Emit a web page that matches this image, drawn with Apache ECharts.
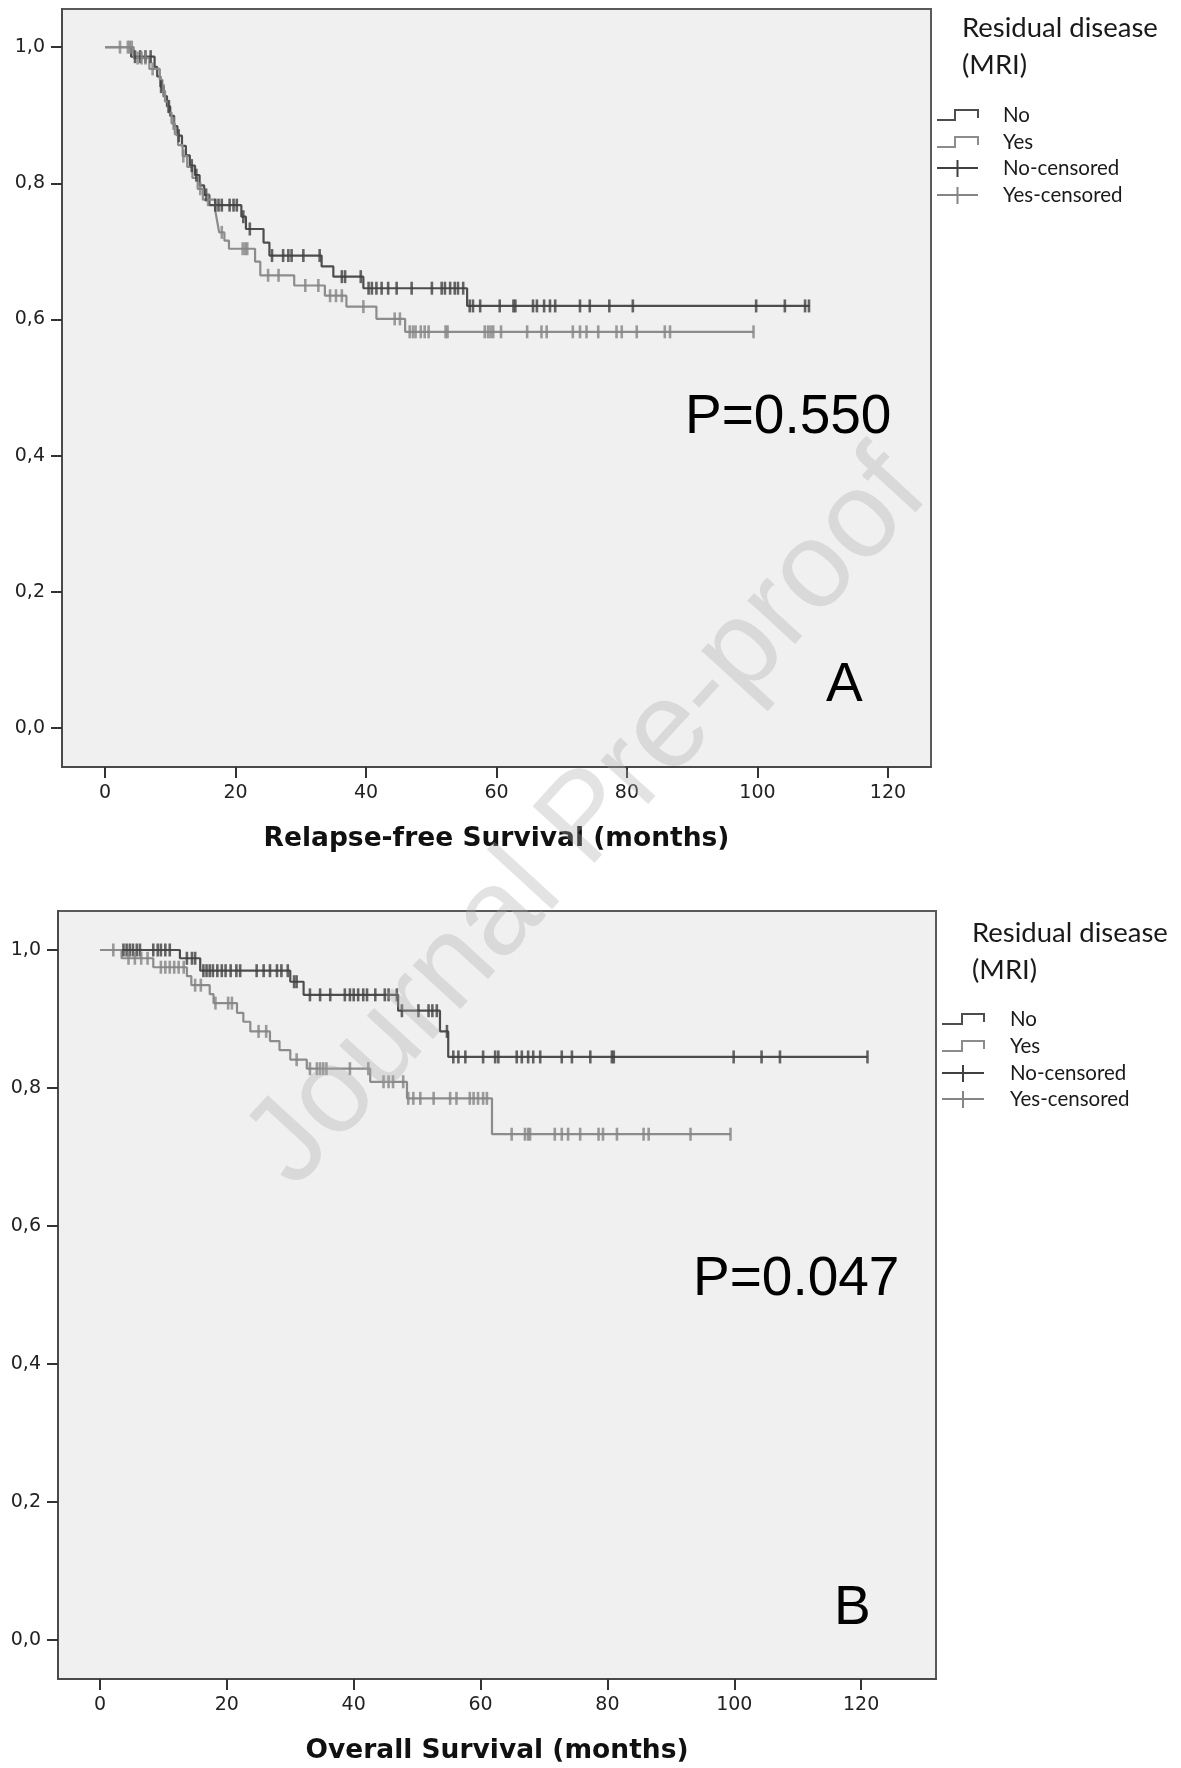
<!DOCTYPE html>
<html><head><meta charset="utf-8">
<script src="https://cdn.jsdelivr.net/npm/echarts@6/dist/echarts.min.js"></script>
<style>html,body{margin:0;padding:0;background:#fff;}#c{width:1181px;height:1768px;}</style>
</head><body><div id="c"></div>
<script>
// ---------- DATA ----------
const xTickValues = [0, 20, 40, 60, 80, 100, 120];
const yTickValues = [0, 0.2, 0.4, 0.6, 0.8, 1.0];
const groupNames = ['No', 'Yes', 'No-censored', 'Yes-censored'];
const legendTitle = ['Residual disease', '(MRI)'];
const xTitleA = 'Relapse-free Survival (months)';
const xTitleB = 'Overall Survival (months)';
const pValueA = 'P=0.550';
const pValueB = 'P=0.047';
const panelA = 'A';
const panelB = 'B';

// Relapse-free survival: [time (months), survival after event]
const rfsNoSteps = [[0,1.000],[4.0,0.986],[7.6,0.971],[8.0,0.957],[8.5,0.942],[9.0,0.928],[9.5,0.913],[10.0,0.899],[10.6,0.884],[11.1,0.870],[11.8,0.855],[12.4,0.841],[13.0,0.826],[13.8,0.812],[14.5,0.797],[15.2,0.783],[16.0,0.768],[20.9,0.751],[21.6,0.733],[24.3,0.713],[25.2,0.694],[33.2,0.678],[35.0,0.663],[39.6,0.646],[55.5,0.620],[108.0,0.620]];
const rfsNoCensored = [4.6,5.4,6.2,7.0,8.6,9.8,11.3,13.3,14.0,15.5,16.9,17.4,17.9,19.1,19.7,20.2,21.2,22.2,25.6,27.3,28.1,28.6,30.4,32.9,36.3,36.8,39.2,40.4,40.9,41.6,42.4,43.4,44.7,47.0,50.1,51.6,52.1,52.9,53.6,54.1,54.9,55.9,56.4,57.5,60.5,62.6,62.9,65.6,66.2,67.3,68.2,69.0,72.8,74.3,77.3,80.9,99.8,104.2,107.3,107.9];
const rfsYesSteps = [[0,1.000],[4.4,0.984],[6.8,0.968],[8.4,0.952],[8.8,0.936],[9.2,0.920],[9.7,0.904],[10.2,0.888],[10.7,0.872],[11.2,0.856],[11.9,0.840],[12.6,0.824],[13.4,0.808],[14.2,0.792],[15.0,0.776],[16.9,0.760],[17.2,0.744],[17.5,0.728],[18.3,0.716],[19.0,0.704],[23.0,0.685],[23.8,0.665],[29.0,0.650],[33.7,0.635],[37.0,0.619],[41.6,0.601],[46.0,0.582],[99.4,0.582]];
const rfsYesCensored = [2.3,3.5,3.8,4.1,5.0,5.6,6.2,7.3,9.0,10.5,12.0,14.6,15.8,17.9,21.1,21.5,21.8,25.0,26.6,30.7,32.7,34.5,35.4,36.3,39.6,44.4,45.2,46.7,47.2,47.6,48.4,49.0,49.6,52.2,52.5,58.2,58.7,59.1,59.5,60.7,64.7,66.9,67.7,71.7,72.8,73.8,75.6,78.4,79.2,81.5,85.8,86.6,99.4];

// Overall survival
const osNoSteps = [[0,1.000],[12.6,0.988],[15.8,0.970],[30.0,0.954],[32.1,0.935],[47.0,0.912],[53.6,0.882],[54.9,0.845],[121.0,0.845]];
const osNoCensored = [3.7,4.2,4.7,5.2,5.8,6.3,8.4,9.1,9.6,10.3,11.0,13.7,14.5,15.0,16.3,16.8,17.3,17.8,18.5,19.2,19.8,20.6,21.5,22.1,24.7,25.8,26.8,27.9,28.6,29.6,30.6,31.0,33.1,34.7,36.3,38.6,39.4,40.0,40.7,41.5,42.1,43.4,44.9,45.5,46.8,47.6,50.2,51.8,52.4,53.1,54.7,55.7,56.5,57.6,60.4,62.3,62.8,65.7,66.5,67.5,68.3,69.4,72.8,74.4,77.3,80.7,81.0,99.9,104.3,107.2,121.0];
const osYesSteps = [[0,1.000],[3.4,0.988],[8.4,0.975],[13.7,0.962],[14.4,0.949],[17.3,0.936],[17.9,0.923],[21.6,0.909],[22.6,0.896],[23.7,0.882],[26.8,0.868],[28.3,0.855],[30.0,0.841],[32.6,0.828],[42.6,0.809],[48.4,0.785],[61.8,0.733],[99.4,0.733]];
const osYesCensored = [2.1,4.5,5.5,6.5,7.5,9.6,10.3,11.0,11.7,12.4,13.2,15.0,15.9,18.2,20.2,20.8,25.0,26.2,31.0,33.1,34.2,34.7,35.2,35.7,39.4,42.3,44.7,45.5,46.2,47.8,48.6,49.4,50.5,52.6,55.2,56.2,58.3,58.9,59.6,60.4,61.0,64.9,67.0,67.5,67.8,71.7,72.8,73.8,75.7,78.6,79.3,81.5,85.7,86.5,93.1,99.4];

// ---------- STYLE ----------
const colNo = '#4d4d4d', colYes = '#8c8c8c';
const colNoMark = '#404040', colYesMark = '#858585';

function survAt(steps, t) {
  let s = steps[0][1];
  for (const p of steps) { if (p[0] <= t) s = p[1]; else break; }
  return s;
}
function censPoints(steps, times) { return times.map(t => [t, survAt(steps, t)]); }

function xAxisCfg(idx, min, max, title) {
  return {
    type: 'value', gridIndex: idx, min: min, max: max,
    splitLine: { show: false },
    axisLine: { show: true, onZero: false, lineStyle: { color: '#4a4a4a', width: 2 } },
    axisTick: { show: true, customValues: xTickValues, length: 11, lineStyle: { color: '#333', width: 2 } },
    axisLabel: { customValues: xTickValues, margin: 17, fontSize: 19, fontFamily: 'DejaVu Sans', color: '#222' },
    name: title, nameLocation: 'middle', nameGap: 59,
    nameTextStyle: { fontSize: 26.5, fontWeight: 'bold', fontFamily: 'DejaVu Sans', color: '#111' }
  };
}
function yAxisCfg(idx, min, max) {
  return {
    type: 'value', gridIndex: idx, min: min, max: max,
    splitLine: { show: false },
    axisLine: { show: true, onZero: false, lineStyle: { color: '#4a4a4a', width: 2 } },
    axisTick: { show: true, customValues: yTickValues, length: 11, lineStyle: { color: '#333', width: 2 } },
    axisLabel: { customValues: yTickValues, margin: 17, fontSize: 19, fontFamily: 'DejaVu Sans', color: '#222',
      formatter: v => v.toFixed(1).replace('.', ',') }
  };
}
function lineSeries(idx, steps, color) {
  return { type: 'line', xAxisIndex: idx, yAxisIndex: idx, data: steps, step: 'end',
    showSymbol: false, symbol: 'none', lineStyle: { color: color, width: 2.2 }, z: 3, silent: true };
}
function censSeries(idx, steps, times, color) {
  return { type: 'scatter', xAxisIndex: idx, yAxisIndex: idx, data: censPoints(steps, times),
    symbol: 'rect', symbolSize: [2.6, 13], itemStyle: { color: color }, z: 4, silent: true };
}

function legendGraphics(tx, ty1, ty2, ix, iy, sx0, sx1, sx2) {
  const g = [];
  g.push({ type: 'text', x: tx, y: ty1, style: { text: legendTitle[0], font: '27.5px Lato', fill: '#1a1a1a', verticalAlign: 'middle' } });
  g.push({ type: 'text', x: tx, y: ty2, style: { text: legendTitle[1], font: '27.5px Lato', fill: '#1a1a1a', verticalAlign: 'middle' } });
  const cols = [colNo, colYes, colNoMark, colYesMark];
  for (let i = 0; i < 4; i++) {
    const y = iy[i];
    g.push({ type: 'text', x: ix, y: y, style: { text: groupNames[i], font: '20.5px Lato', fill: '#1a1a1a', verticalAlign: 'middle' } });
    if (i < 2) {
      g.push({ type: 'polyline', shape: { points: [[sx0, y + 5], [sx1, y + 5], [sx1, y - 5], [sx2, y - 5], [sx2, y + 3]] },
        style: { stroke: cols[i], lineWidth: 2, fill: null } });
    } else {
      g.push({ type: 'line', shape: { x1: sx0, y1: y, x2: sx2, y2: y }, style: { stroke: cols[i], lineWidth: 2 } });
      g.push({ type: 'line', shape: { x1: (sx0 + sx2) / 2, y1: y - 8, x2: (sx0 + sx2) / 2, y2: y + 9 }, style: { stroke: cols[i], lineWidth: 2 } });
    }
  }
  return g;
}

const chart = echarts.init(document.getElementById('c'), null, { renderer: 'canvas', width: 1181, height: 1768 });

const graphics = [].concat(
  legendGraphics(962, 28, 65, 1003, [115, 142, 168, 195], 937, 955, 978),
  legendGraphics(972, 933, 970, 1010, [1019, 1046, 1073, 1099], 942, 962, 984),
  [
    { type: 'text', x: 685, y: 418, style: { text: pValueA, font: '55px "Liberation Sans"', fill: '#000', verticalAlign: 'middle' }, z: 10 },
    { type: 'text', x: 826, y: 686, style: { text: panelA, font: '55px "Liberation Sans"', fill: '#000', verticalAlign: 'middle' }, z: 10 },
    { type: 'text', x: 693, y: 1280, style: { text: pValueB, font: '55px "Liberation Sans"', fill: '#000', verticalAlign: 'middle' }, z: 10 },
    { type: 'text', x: 834, y: 1609, style: { text: panelB, font: '55px "Liberation Sans"', fill: '#000', verticalAlign: 'middle' }, z: 10 },
    { type: 'text', x: 588, y: 820, rotation: 47.5 * Math.PI / 180, z: 100,
      style: { text: 'Journal Pre-proof', font: '122px "Liberation Sans"', fill: 'rgba(170,170,170,0.33)', align: 'center', verticalAlign: 'middle' } }
  ]
);

chart.setOption({
  animation: false,
  backgroundColor: '#ffffff',
  grid: [
    { left: 62, top: 9, width: 869, height: 758, show: true, backgroundColor: '#f0f0f0', borderColor: '#5a5a5a', borderWidth: 2, containLabel: false },
    { left: 58, top: 911, width: 878, height: 768, show: true, backgroundColor: '#f0f0f0', borderColor: '#5a5a5a', borderWidth: 2, containLabel: false }
  ],
  xAxis: [ xAxisCfg(0, -6.59, 126.6, xTitleA), xAxisCfg(1, -6.62, 131.8, xTitleB) ],
  yAxis: [ yAxisCfg(0, -0.057, 1.056), yAxisCfg(1, -0.0565, 1.0565) ],
  series: [
    lineSeries(0, rfsNoSteps, colNo),
    lineSeries(0, rfsYesSteps, colYes),
    censSeries(0, rfsNoSteps, rfsNoCensored, colNoMark),
    censSeries(0, rfsYesSteps, rfsYesCensored, colYesMark),
    lineSeries(1, osNoSteps, colNo),
    lineSeries(1, osYesSteps, colYes),
    censSeries(1, osNoSteps, osNoCensored, colNoMark),
    censSeries(1, osYesSteps, osYesCensored, colYesMark)
  ],
  graphic: graphics
});
</script>
</body></html>
